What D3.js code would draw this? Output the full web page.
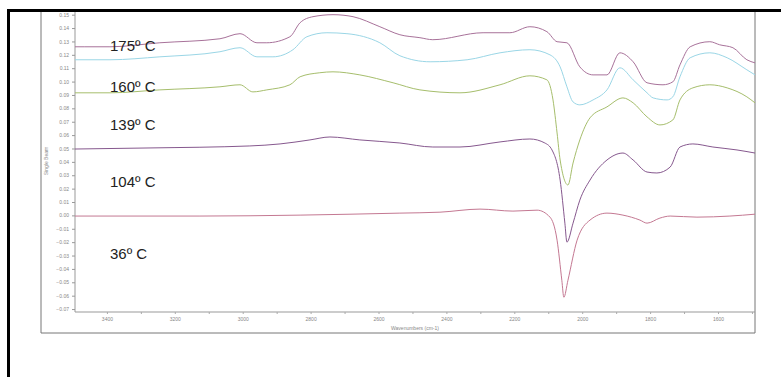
<!DOCTYPE html>
<html>
<head>
<meta charset="utf-8">
<script src="https://cdn.jsdelivr.net/npm/d3@7"></script>
<style>
  html, body { margin: 0; padding: 0; background: #fff; }
  svg { display: block; }
</style>
</head>
<body>
<div id="chart"></div>
<script>
// spectra: [wavenumber (cm-1), single beam value]
const s175 = [[3494,0.126],[3465,0.126],[3391,0.126],[3244,0.129],[3067,0.132],[3008,0.1358],[2958,0.129],[2929,0.129],[2861,0.1335],[2831,0.144],[2793,0.1485],[2734,0.150],[2675,0.1485],[2596,0.141],[2537,0.135],[2478,0.1328],[2440,0.1313],[2292,0.1365],[2213,0.1365],[2154,0.141],[2104,0.1373],[2074,0.1298],[2045,0.129],[2007,0.111],[1968,0.105],[1927,0.105],[1889,0.1215],[1850,0.1148],[1809,0.0991],[1762,0.0976],[1733,0.0998],[1712,0.1125],[1682,0.126],[1624,0.1298],[1595,0.1275],[1556,0.1253],[1515,0.1163],[1491,0.114]];
const s160 = [[3494,0.1163],[3391,0.1163],[3244,0.1185],[3067,0.1223],[3008,0.1253],[2958,0.1185],[2911,0.1185],[2852,0.1238],[2811,0.1335],[2752,0.1365],[2693,0.1358],[2596,0.129],[2537,0.1193],[2448,0.1148],[2339,0.1163],[2242,0.1215],[2154,0.1238],[2095,0.12],[2065,0.111],[2045,0.0961],[2027,0.0848],[2007,0.0826],[1968,0.0863],[1927,0.0938],[1889,0.1103],[1850,0.1013],[1809,0.0916],[1791,0.0878],[1750,0.0863],[1733,0.0886],[1712,0.1036],[1682,0.1178],[1624,0.1215],[1573,0.1178],[1515,0.1088],[1491,0.105]];
const s139 = [[3494,0.0916],[3391,0.0916],[3244,0.0938],[3067,0.0961],[3008,0.0976],[2970,0.0923],[2929,0.0938],[2861,0.0976],[2831,0.1036],[2773,0.1066],[2734,0.1073],[2655,0.105],[2557,0.0991],[2478,0.0938],[2360,0.0916],[2242,0.0976],[2154,0.1043],[2104,0.1013],[2086,0.0863],[2074,0.0616],[2065,0.0414],[2042,0.0227],[2027,0.0391],[2007,0.0564],[1977,0.0729],[1927,0.0811],[1880,0.0878],[1850,0.0841],[1809,0.0736],[1771,0.0676],[1733,0.0713],[1712,0.0863],[1674,0.0953],[1624,0.0976],[1573,0.0953],[1515,0.0886],[1491,0.0841]];
const s104 = [[3494,0.0496],[3273,0.0504],[2979,0.0519],[2890,0.0534],[2802,0.0564],[2743,0.0586],[2655,0.0564],[2537,0.0541],[2440,0.0511],[2360,0.0511],[2242,0.0549],[2154,0.0571],[2110,0.0541],[2089,0.0489],[2065,0.0264],[2051,-0.0058],[2045,-0.02],[2027,-0.0058],[2007,0.0114],[1977,0.0264],[1927,0.0414],[1880,0.0466],[1850,0.0414],[1809,0.0324],[1780,0.0317],[1741,0.0361],[1712,0.0511],[1674,0.0534],[1615,0.0511],[1544,0.0489],[1491,0.0466]];
const s36 = [[3494,-0.0005],[3126,-0.0005],[2831,0.0002],[2537,0.0017],[2419,0.0024],[2301,0.0047],[2204,0.0032],[2133,0.0039],[2095,-0.0013],[2074,-0.0185],[2060,-0.0485],[2054,-0.0612],[2042,-0.0485],[2015,-0.0185],[1977,-0.0035],[1927,0.0017],[1880,0.0002],[1830,-0.0035],[1809,-0.0058],[1771,-0.002],[1741,-0.0005],[1662,-0.0013],[1565,-0.0005],[1491,0.0009]];

const seriesData = [s175, s160, s139, s104, s36];
const seriesColors = ['#a8729a', '#9ad6e6', '#a6be6c', '#86588e', '#c47892'];

// temperature labels, with the value level each one sits at
const tempLabels = ['175º C', '160º C', '139º C', '104º C', '36º C'];
const tempLevels = [0.1265, 0.0965, 0.068, 0.0255, -0.029];

const xTicks = [3400, 3200, 3000, 2800, 2600, 2400, 2200, 2000, 1800, 1600];
const yTicks = d3.range(-7, 16).map(d => d / 100);

const width = 781, height = 377;
const plot = { left: 75, right: 755, top: 12, bottom: 312 };

const svg = d3.select('#chart')
  .append('svg')
  .attr('width', width)
  .attr('height', height);

// outer frame: thick black top/left, thin grey box
svg.append('rect').attr('x', 7).attr('y', 9).attr('width', width - 7).attr('height', 3).attr('fill', '#000');
svg.append('rect').attr('x', 7).attr('y', 9).attr('width', 3).attr('height', height - 9).attr('fill', '#000');
svg.append('path')
  .attr('d', `M41,12V333H755V12`)
  .attr('fill', 'none')
  .attr('stroke', '#777')
  .attr('stroke-width', 1);

const x = d3.scaleLinear().domain([3494, 1491]).range([plot.left, plot.right]);
const y = d3.scaleLinear().domain([-0.0722, 0.152]).range([plot.bottom, plot.top]);

// Y axis
const yAxis = svg.append('g')
  .attr('transform', `translate(${plot.left},0)`)
  .call(d3.axisLeft(y).tickValues(yTicks).tickSize(3).tickPadding(3).tickFormat(d3.format('.2f')));
yAxis.select('.domain').attr('stroke', '#999').attr('d', `M0,${plot.top}V${plot.bottom}`);
yAxis.selectAll('.tick line').attr('stroke', '#999');
yAxis.selectAll('text').attr('fill', '#888').style('font', '5px "Liberation Sans", Arial, sans-serif');

// X axis
const xAxis = svg.append('g')
  .attr('transform', `translate(0,${plot.bottom})`)
  .call(d3.axisBottom(x).tickValues(d3.range(1500, 3500, 100)).tickSize(2).tickPadding(3)
    .tickFormat(d => xTicks.includes(d) ? d : ''));
xAxis.select('.domain').attr('stroke', '#999').attr('d', `M${plot.left},0H${plot.right}`);
xAxis.selectAll('.tick line').attr('stroke', '#aaa');
xAxis.selectAll('text').attr('fill', '#888').style('font', '5px "Liberation Sans", Arial, sans-serif');

svg.append('text')
  .attr('x', 415).attr('y', 330)
  .attr('text-anchor', 'middle')
  .attr('fill', '#888')
  .style('font', '5px "Liberation Sans", Arial, sans-serif')
  .text('Wavenumbers (cm-1)');

svg.append('text')
  .attr('transform', 'translate(48,161) rotate(-90)')
  .attr('text-anchor', 'middle')
  .attr('fill', '#888')
  .style('font', '5px "Liberation Sans", Arial, sans-serif')
  .text('Single Beam');

// spectra
const line = d3.line()
  .x(d => x(d[0]))
  .y(d => y(d[1]))
  .curve(d3.curveMonotoneX);

svg.append('g')
  .selectAll('path')
  .data(seriesData)
  .join('path')
  .attr('d', line)
  .attr('fill', 'none')
  .attr('stroke', (d, i) => seriesColors[i])
  .attr('stroke-width', 1);

// temperature labels
svg.append('g')
  .selectAll('text')
  .data(tempLabels)
  .join('text')
  .attr('x', 110)
  .attr('y', (d, i) => y(tempLevels[i]))
  .attr('dy', '0.35em')
  .attr('fill', '#222')
  .style('font', '15px "Liberation Sans", Arial, sans-serif')
  .text(d => d);
</script>
</body>
</html>
